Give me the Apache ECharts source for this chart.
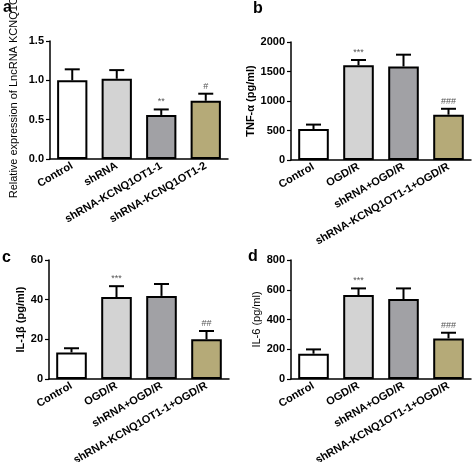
<!DOCTYPE html>
<html>
<head>
<meta charset="utf-8">
<script src="https://cdn.jsdelivr.net/npm/echarts@6/dist/echarts.min.js"></script>
<style>html,body{margin:0;padding:0;background:#fff;}#c{width:474px;height:462px;}</style>
</head>
<body>
<div id="c"></div>
<script>
var catsA = ['Control', 'shRNA', 'shRNA-KCNQ1OT1-1', 'shRNA-KCNQ1OT1-2'];
var catsOGD = ['Control', 'OGD/R', 'shRNA+OGD/R', 'shRNA-KCNQ1OT1-1+OGD/R'];

var valsA = [1.0, 1.02, 0.56, 0.74];
var errA = [0.14, 0.11, 0.07, 0.09];
var sigA = ['', '', '**', '#'];

var valsB = [525, 1605, 1585, 768];
var errB = [75, 90, 200, 100];
var sigB = ['', '***', '', '###'];

var valsC = [13.4, 41.3, 41.9, 20];
var errC = [2.1, 5.5, 6.0, 4.2];
var sigC = ['', '***', '', '##'];

var valsD = [170, 564, 537, 273];
var errD = [29, 45, 72, 38];
var sigD = ['', '***', '', '###'];

var ticksA = {min: 0, max: 1.5, interval: 0.5};
var ticksB = {min: 0, max: 2000, interval: 500};
var ticksC = {min: 0, max: 60, interval: 20};
var ticksD = {min: 0, max: 800, interval: 200};

var barColors = ['#ffffff', '#d3d3d3', '#a1a1a5', '#b5aa78'];
var FONT = '"Liberation Sans", Arial, sans-serif';

var panels = [
  {cats: catsA, vals: valsA, err: errA, sig: sigA, ticks: ticksA, name: 'Relative expression of LncRNA KCNQ1OT1', nameGap: 31, nameWeight: 'normal', namePad: [0, 0, 0, 18], fmt: function (v) { return v.toFixed(1); },
   grid: {left: 50, top: 41, width: 178, height: 118, outerBoundsMode: 'none'}},
  {cats: catsOGD, vals: valsB, err: errB, sig: sigB, ticks: ticksB, name: 'TNF-α (pg/ml)', nameGap: 29, nameWeight: 'bold', namePad: 0, fmt: function (v) { return String(v); },
   grid: {left: 291, top: 42, width: 180, height: 118, outerBoundsMode: 'none'}},
  {cats: catsOGD, vals: valsC, err: errC, sig: sigC, ticks: ticksC, name: 'IL-1β (pg/ml)', nameGap: 22, nameWeight: 'bold', namePad: 0, fmt: function (v) { return String(v); },
   grid: {left: 49, top: 260, width: 180, height: 119, outerBoundsMode: 'none'}},
  {cats: catsOGD, vals: valsD, err: errD, sig: sigD, ticks: ticksD, name: 'IL-6 (pg/ml)', nameGap: 29, nameWeight: 'normal', namePad: 0, fmt: function (v) { return String(v); },
   grid: {left: 291, top: 260, width: 180, height: 119, outerBoundsMode: 'none'}}
];

var grids = [], xAxes = [], yAxes = [], series = [];
panels.forEach(function (p, i) {
  grids.push(p.grid);
  xAxes.push({
    type: 'category', gridIndex: i, data: p.cats,
    axisLine: {lineStyle: {color: '#000', width: 1.5}},
    axisTick: {alignWithLabel: true, length: 4, lineStyle: {color: '#000', width: 1.2}},
    axisLabel: {rotate: 30, interval: 0, margin: 6, color: '#000', fontWeight: 'bold', fontSize: 11, fontFamily: FONT}
  });
  yAxes.push({
    type: 'value', gridIndex: i, min: p.ticks.min, max: p.ticks.max, interval: p.ticks.interval,
    name: p.name, nameLocation: 'middle', nameGap: p.nameGap, nameRotate: 90,
    nameTextStyle: {color: '#000', fontSize: 11, fontWeight: p.nameWeight, fontFamily: FONT, padding: p.namePad},
    splitLine: {show: false},
    axisLine: {show: true, lineStyle: {color: '#000', width: 1.5}},
    axisTick: {show: true, length: 4, lineStyle: {color: '#000', width: 1.2}},
    axisLabel: {color: '#000', fontWeight: 'bold', fontSize: 11, fontFamily: FONT, margin: 6, formatter: p.fmt}
  });
  series.push({
    type: 'bar', xAxisIndex: i, yAxisIndex: i, barWidth: '68%',
    data: p.vals.map(function (v, k) {
      return {value: v, itemStyle: {color: barColors[k], borderColor: '#000', borderWidth: 2}};
    }),
    z: 2
  });
  series.push({
    type: 'custom', xAxisIndex: i, yAxisIndex: i, z: 3,
    data: p.vals.map(function (v, k) { return [k, v, v + p.err[k], p.sig[k]]; }),
    renderItem: function (params, api) {
      var x = api.value(0);
      var base = api.coord([x, api.value(1)]);
      var top = api.coord([x, api.value(2)]);
      var half = 7.5;
      var children = [
        {type: 'line', shape: {x1: base[0], y1: base[1], x2: top[0], y2: top[1]}, style: {stroke: '#000', lineWidth: 2}},
        {type: 'line', shape: {x1: top[0] - half, y1: top[1], x2: top[0] + half, y2: top[1]}, style: {stroke: '#000', lineWidth: 2}}
      ];
      var s = p.sig[params.dataIndex];
      if (s) {
        children.push({type: 'text', style: {text: s, x: top[0], y: top[1] - 3, align: 'center', verticalAlign: 'bottom', fill: '#555', font: '9px ' + FONT}});
      }
      return {type: 'group', children: children};
    }
  });
});

var letters = [
  {text: 'a', left: 3, top: 0},
  {text: 'b', left: 253, top: 1},
  {text: 'c', left: 2, top: 250},
  {text: 'd', left: 248, top: 249}
];

var chart = echarts.init(document.getElementById('c'), null, {renderer: 'canvas'});
chart.setOption({
  animation: false,
  backgroundColor: '#fff',
  title: letters.map(function (l) {
    return {text: l.text, left: l.left, top: l.top, padding: 0, textStyle: {color: '#000', fontSize: 16, fontWeight: 'bold', fontFamily: FONT}};
  }),
  grid: grids,
  xAxis: xAxes,
  yAxis: yAxes,
  series: series
});
</script>
</body>
</html>
